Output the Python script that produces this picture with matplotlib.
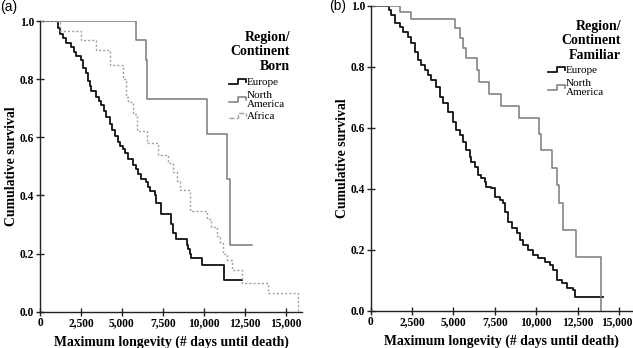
import matplotlib
matplotlib.use("Agg")
import matplotlib.pyplot as plt
from matplotlib.lines import Line2D
from matplotlib.legend_handler import HandlerBase
from matplotlib.ticker import FuncFormatter
from matplotlib.transforms import ScaledTranslation

# ---- data (time in days, cumulative survival) ----
# (a) Region/Continent Born
eu_a_t = [0, 1100, 1250, 1400, 1600, 1910, 2050, 2220, 2520, 2650, 2800, 2930, 3050, 3130,
          3440, 3600, 3740, 3900, 4050, 4250, 4400, 4560, 4760, 4900, 5070, 5200, 5370, 5680,
          5850, 5980, 6190, 6490, 6600, 6700, 7000, 7100, 7400, 8000, 8150, 8300, 8960, 9050,
          9160, 9250, 9870, 11250, 12310]
eu_a_s = [1.0, 0.975, 0.955, 0.94, 0.925, 0.91, 0.895, 0.88, 0.865, 0.84, 0.82, 0.795, 0.775, 0.76,
          0.74, 0.725, 0.71, 0.69, 0.67, 0.645, 0.625, 0.605, 0.585, 0.57, 0.56, 0.545, 0.525, 0.505,
          0.49, 0.475, 0.455, 0.445, 0.43, 0.415, 0.40, 0.375, 0.336, 0.30, 0.27, 0.25, 0.23, 0.215,
          0.20, 0.184, 0.161, 0.109, 0.109]

na_a_t = [0, 5840, 6450, 6550, 10180, 11430, 11600, 12920]
na_a_s = [1.0, 0.933, 0.867, 0.733, 0.611, 0.458, 0.229, 0.229]

af_a_t = [0, 1200, 2520, 3440, 4250, 5070, 5250, 5400, 5700, 5900, 6510, 7200, 7800, 8100,
          8340, 8550, 9160, 10180, 10450, 10800, 11000, 11200, 11400, 11700, 12350, 13940, 15730]
af_a_s = [1.0, 0.967, 0.933, 0.90, 0.85, 0.80, 0.74, 0.72, 0.68, 0.62, 0.58, 0.54, 0.51, 0.48,
          0.45, 0.417, 0.345, 0.32, 0.293, 0.26, 0.236, 0.20, 0.178, 0.144, 0.10, 0.066, 0.0]

# (b) Region/Continent Familiar
eu_b_t = [0, 1090, 1250, 1450, 1750, 1950, 2250, 2450, 2660, 2860, 3060, 3260, 3460, 3660,
          3960, 4160, 4370, 4670, 4970, 5170, 5370, 5570, 5770, 5980, 6080, 6280, 6480, 6680,
          6880, 6980, 7280, 7490, 7790, 7990, 8110, 8310, 8510, 8820, 9020, 9220, 9520, 9820,
          10120, 10530, 10830, 11030, 11230, 11530, 11840, 12240, 12340, 14050]
eu_b_s = [1.0, 0.985, 0.969, 0.942, 0.931, 0.915, 0.898, 0.877, 0.849, 0.822, 0.806, 0.789, 0.773, 0.757,
          0.734, 0.702, 0.680, 0.652, 0.620, 0.592, 0.575, 0.554, 0.527, 0.505, 0.489, 0.472, 0.445, 0.434,
          0.423, 0.407, 0.401, 0.374, 0.363, 0.352, 0.325, 0.292, 0.270, 0.254, 0.232, 0.215, 0.199, 0.183,
          0.172, 0.161, 0.150, 0.133, 0.101, 0.090, 0.073, 0.068, 0.046, 0.046]

na_b_t = [0, 1790, 2430, 5110, 5370, 5570, 5740, 6420, 6540, 7120, 7850, 8970, 10140, 10300,
          10970, 11230, 11400, 11590, 12370, 13900]
na_b_s = [1.0, 0.978, 0.956, 0.926, 0.893, 0.860, 0.828, 0.789, 0.751, 0.711, 0.671, 0.631, 0.579, 0.527,
          0.469, 0.412, 0.352, 0.263, 0.175, 0.0]

x_ticks = [0, 2500, 5000, 7500, 10000, 12500, 15000]
y_ticks = [0.0, 0.2, 0.4, 0.6, 0.8, 1.0]

W, H = 633, 348
SERIF = "Liberation Serif"
EU_COL = "#111111"
NA_COL = "#7a7a7a"
AF_COL = "#a0a0a0"


def px(x, y):
    return x / W, 1 - y / H


class StepHandler(HandlerBase):
    # little step glyph used by SPSS survival plots
    def create_artists(self, legend, orig_handle, xdescent, ydescent, width, height, fontsize, trans):
        x0 = -xdescent
        y0 = -ydescent
        xs = [x0, x0 + 0.55 * width, x0 + 0.55 * width, x0 + width, x0 + width]
        ys = [y0 + 0.15 * height, y0 + 0.15 * height, y0 + 0.85 * height, y0 + 0.85 * height, y0 + 0.45 * height]
        line = Line2D(xs, ys, color=orig_handle.get_color(), lw=orig_handle.get_linewidth(),
                      linestyle=orig_handle.get_linestyle())
        line.set_transform(trans)
        return [line]


def style_axes(ax, xmax):
    ax.set_xlim(0, xmax)
    ax.set_ylim(0, 1.0)
    for s in ("top", "right"):
        ax.spines[s].set_visible(False)
    for s in ("left", "bottom"):
        ax.spines[s].set_linewidth(1.0)
        ax.spines[s].set_color("#222222")
    ax.set_xticks(x_ticks)
    ax.set_yticks(y_ticks)
    ax.xaxis.set_major_formatter(FuncFormatter(lambda v, p: f"{int(v):,}"))
    ax.yaxis.set_major_formatter(FuncFormatter(lambda v, p: f"{v:.1f}"))
    ax.tick_params(direction="inout", length=6, width=1.0, color="#222222", pad=1, labelsize=8.3)
    for lab in ax.get_xticklabels() + ax.get_yticklabels():
        lab.set_family(SERIF)
        lab.set_weight("bold")
    ax.set_xlabel("Maximum longevity (# days until death)", family=SERIF, weight="bold",
                  fontsize=9.9, labelpad=4.5)
    ax.set_ylabel("Cumulative survival", family=SERIF, weight="bold", fontsize=9.9, labelpad=1.5)


fig = plt.figure(figsize=(W / 100, H / 100), dpi=100)

# ---- panel (a) ----
ax_a = fig.add_axes([40 / W, 1 - 311.7 / H, 262 / W, 290.7 / H])
ax_a.step(eu_a_t, eu_a_s, where="post", color=EU_COL, lw=1.3, label="Europe")
ax_a.step(na_a_t, na_a_s, where="post", color=NA_COL, lw=1.1, label="North\nAmerica")
ax_a.step(af_a_t, af_a_s, where="post", color=AF_COL, lw=1.0, linestyle=(0, (1.5, 1.5)), label="Africa")
style_axes(ax_a, 16000)

# ---- panel (b) ----
ax_b = fig.add_axes([370.7 / W, 1 - 310.7 / H, 262.3 / W, 305 / H])
ax_b.step(eu_b_t, eu_b_s, where="post", color=EU_COL, lw=1.3, label="Europe")
ax_b.step(na_b_t, na_b_s, where="post", color=NA_COL, lw=1.1, label="North\nAmerica")
style_axes(ax_b, 15840)
# last tick label sits right at the figure edge; nudge it in a little
last = ax_b.get_xticklabels()[-1]
last.set_transform(last.get_transform() + ScaledTranslation(-2.5 / 100, 0, fig.dpi_scale_trans))

# legend titles and entries
for ax, title, tx, ty, lx, ly in [
    (ax_a, "Region/\nContinent\nBorn", 290, 31, 229, 78),
    (ax_b, "Region/\nContinent\nFamiliar", 621, 20, 548, 66),
]:
    fig.text(*px(tx, ty), title, ha="right", va="top", multialignment="right",
             family=SERIF, weight="bold", fontsize=10, linespacing=1.13)
    handles, labels = ax.get_legend_handles_labels()
    leg = ax.legend(handles, labels, loc="upper left", bbox_to_anchor=px(lx, ly),
                    bbox_transform=fig.transFigure, frameon=False, borderpad=0, borderaxespad=0,
                    handlelength=1.5, handleheight=0.6, handletextpad=0.1, labelspacing=0.28,
                    prop={"family": SERIF, "size": 8},
                    handler_map={h: StepHandler() for h in handles})
    for t in leg.get_texts():
        t.set_linespacing(1.05)

fig.text(*px(0, 6.7), "(a)", ha="left", va="center", family="Liberation Sans", fontsize=10)
fig.text(*px(329, 5.7), "(b)", ha="left", va="center", family="Liberation Sans", fontsize=10)

fig.savefig("out.png", dpi=100)
